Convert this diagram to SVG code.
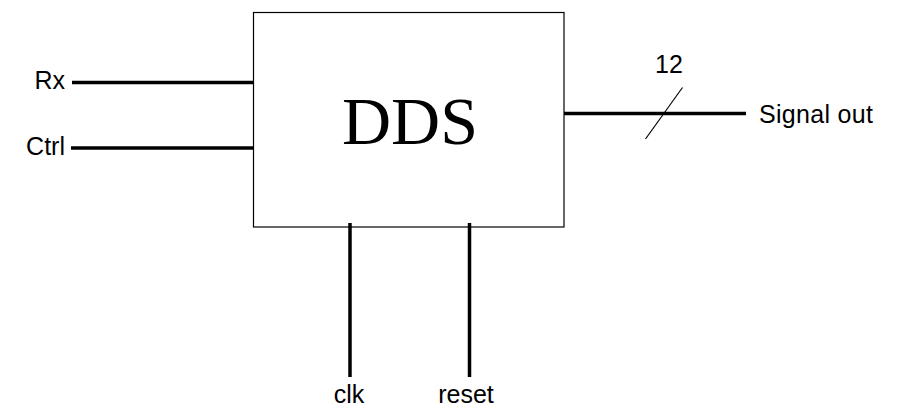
<svg xmlns="http://www.w3.org/2000/svg" width="900" height="417" viewBox="0 0 900 417">
<style>
.lbl{font-family:"Liberation Sans",Arial,sans-serif;font-size:25px;fill:#000}
.wire{stroke:#000;stroke-width:3.5;fill:none}
</style>
<rect x="0" y="0" width="900" height="417" fill="#fff"/>
<g id="dds">
<rect x="253.5" y="12.5" width="310.5" height="214.5" fill="#fff" stroke="#000" stroke-width="1.2"/>
<text x="410" y="144" text-anchor="middle" font-family="Liberation Serif,'Times New Roman',serif" font-size="68">DDS</text>
</g>
<g id="connectors">
<line class="wire" x1="72" y1="82.5" x2="253.5" y2="82.5"/>
<line class="wire" x1="71" y1="148" x2="253.5" y2="148"/>
<line class="wire" x1="564" y1="113.5" x2="746" y2="113.5"/>
<line x1="645.5" y1="139" x2="682.5" y2="87.5" stroke="#000" stroke-width="1.2"/>
<line class="wire" x1="350" y1="223" x2="350" y2="377"/>
<line class="wire" x1="469.5" y1="223" x2="469.5" y2="377"/>
</g>
<g id="rx"><text class="lbl" x="65" y="89" text-anchor="end">Rx</text></g>
<g id="ctrl"><text class="lbl" x="65" y="155" text-anchor="end">Ctrl</text></g>
<g id="signal_out"><text class="lbl" x="759" y="123" textLength="114">Signal out</text></g>
<g id="width"><text class="lbl" x="669" y="73" text-anchor="middle">12</text></g>
<g id="clk"><text class="lbl" x="349" y="403" text-anchor="middle">clk</text></g>
<g id="reset"><text class="lbl" x="466" y="403" text-anchor="middle">reset</text></g>
</svg>
